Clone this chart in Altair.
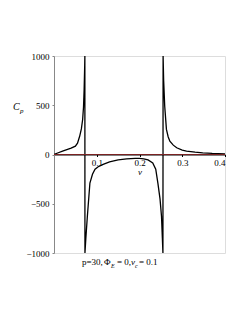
import altair as alt
import pandas as pd

# branch values
v1 = [0.0, 0.01, 0.02, 0.03, 0.04, 0.05, 0.055, 0.06, 0.064, 0.067, 0.069, 0.0705, 0.0718, 0.0722]
c1 = [0, 18, 35, 50, 65, 85, 115, 185, 260, 355, 480, 660, 900, 1000]
v2 = [0.0724, 0.0745, 0.078, 0.084, 0.09, 0.096, 0.105, 0.115, 0.13, 0.15, 0.17, 0.19, 0.2, 0.21, 0.22, 0.231, 0.238, 0.243, 0.248, 0.2515, 0.2535, 0.2548]
c2 = [-1000, -850, -630, -290, -200, -150, -120, -100, -75, -55, -45, -40, -40, -45, -55, -85, -150, -290, -450, -630, -850, -1000]
v3 = [0.2552, 0.2565, 0.259, 0.263, 0.267, 0.271, 0.279, 0.287, 0.3, 0.31, 0.33, 0.348, 0.37, 0.4]
c3 = [1000, 750, 490, 255, 180, 135, 95, 68, 45, 35, 24, 17, 11, 6]

x_ticks = [0.1, 0.2, 0.3, 0.4]
y_ticks = [-1000, -500, 0, 500, 1000]

v_all = v1 + v2 + v3
c_all = c1 + c2 + c3
df = pd.DataFrame({"v": v_all, "Cp": c_all, "i": list(range(len(v_all)))})
zero = pd.DataFrame({"v": [0.0, 0.4], "Cp": [0, 0]})

W, H = 171, 197
serif = "Liberation Serif"

xs = alt.Scale(domain=[0, 0.4], nice=False)
ys = alt.Scale(domain=[-1000, 1000], nice=False)

curve = alt.Chart(df).mark_line(color="black", strokeWidth=1.3, clip=True).encode(
    x=alt.X("v:Q", scale=xs, title=None,
            axis=alt.Axis(values=x_ticks, offset=-H / 2, domainColor="black", tickColor="black",
                          tickSize=2, labelFont=serif, labelFontSize=9, labelColor="black",
                          labelPadding=2, grid=False, format=".1f")),
    y=alt.Y("Cp:Q", scale=ys, title=None,
            axis=alt.Axis(values=y_ticks, domainColor="#888888", tickColor="#888888", tickSize=2,
                          labelFont=serif, labelFontSize=9, labelColor="black", labelPadding=3,
                          grid=False, format="d")),
    order="i:Q",
)

zline = alt.Chart(zero).mark_line(color="#7a2222", strokeWidth=1.2).encode(
    x=alt.X("v:Q", scale=xs), y=alt.Y("Cp:Q", scale=ys)
)

def txt(t, x, y, size=9, italic=False, align="left"):
    return alt.Chart(pd.DataFrame({"t": [t]})).mark_text(
        font=serif, fontSize=size, fontStyle="italic" if italic else "normal",
        align=align, baseline="alphabetic", color="black"
    ).encode(text="t:N", x=alt.value(x), y=alt.value(y))

labels = [
    txt("C", -41, 54, 10, True),
    txt("p", -34, 57, 7, True),
    txt("v", 84, 119, 9, True),
    txt("p=30,", 28, 209),
    txt("Φ", 50, 209),
    txt("E", 57, 212, 6, True),
    txt("= 0,", 63, 209),
    txt("v", 77, 209, 9, True),
    txt("c", 81, 212, 6, True),
    txt("= 0.1", 85, 209),
]

chart = alt.layer(curve, zline, *labels).properties(
    width=W, height=H,
    autosize=alt.AutoSizeParams(type="none"),
    padding={"left": 46, "top": 48, "right": 16, "bottom": 60},
).configure_view(stroke=None).configure(background="white")

chart.save("out.html", embed_options={"renderer": "svg", "actions": False})
